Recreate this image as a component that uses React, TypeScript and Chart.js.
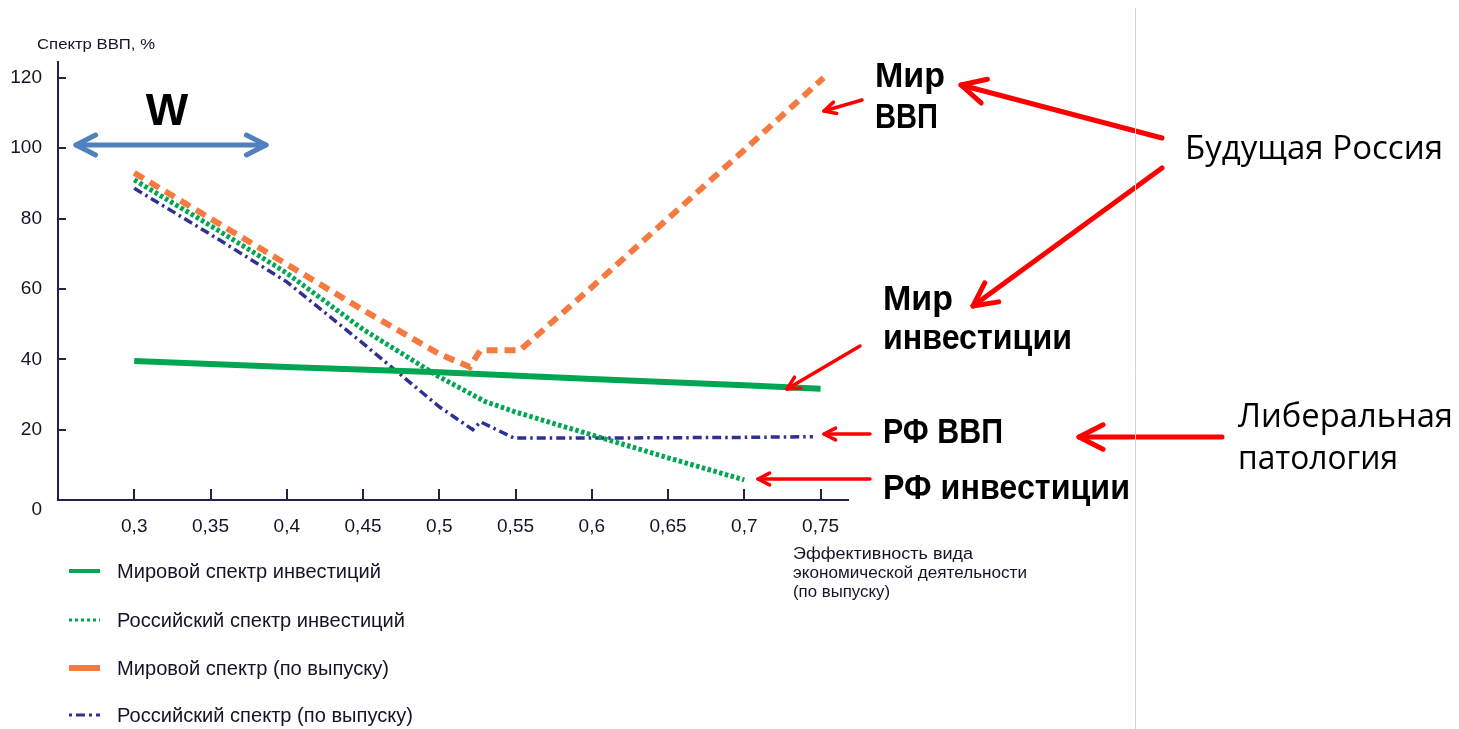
import React, { useEffect, useRef } from 'react';
import { Chart, registerables } from 'chart.js';
Chart.register(...registerables);

const xTickValues = [0.3, 0.35, 0.4, 0.45, 0.5, 0.55, 0.6, 0.65, 0.7, 0.75];
const yTickValues = [0, 20, 40, 60, 80, 100, 120];

const seriesLabels = [
  'Мировой спектр инвестиций',
  'Российский спектр инвестиций',
  'Мировой спектр (по выпуску)',
  'Российский спектр (по выпуску)',
];

const worldInvX = [0.3, 0.4, 0.5, 0.6, 0.7, 0.75];
const worldInvY = [39.5, 37.8, 36.3, 34.4, 32.6, 31.6];

const rusInvX = [0.3, 0.35, 0.4, 0.45, 0.5, 0.53, 0.55, 0.6, 0.65, 0.7];
const rusInvY = [91, 78, 64.5, 48.5, 35, 28, 25, 18.5, 12, 5.7];

const worldOutX = [0.3, 0.35, 0.4, 0.45, 0.5, 0.52, 0.527, 0.553, 0.6, 0.65, 0.7, 0.752];
const worldOutY = [93, 80, 67, 54, 41.5, 37.8, 42.6, 42.6, 60.5, 80, 99.5, 120];

const rusOutX = [0.3, 0.35, 0.4, 0.45, 0.5, 0.522, 0.527, 0.549, 0.6, 0.65, 0.7, 0.745];
const rusOutY = [88.6, 75.5, 62, 44.5, 26.5, 20, 22.2, 17.6, 17.6, 17.7, 17.8, 18];

const yTitle = 'Спектр ВВП, %';
const xTitleLines = ['Эффективность вида', 'экономической деятельности', '(по выпуску)'];

const GREEN = '#00a651';
const ORANGE = '#f47a3f';
const NAVY = '#2e3192';
const RED = '#ff0000';
const BLUE = '#4f81bd';
const AXIS = '#23234a';
const TXT = '#141428';
const FAM = '"Liberation Sans", Arial, sans-serif';

const pts = (xs: number[], ys: number[]) => xs.map((x, i) => ({ x, y: ys[i] }));

function fitText(ctx: CanvasRenderingContext2D, text: string, x: number, y: number, w: number, font: string, color: string) {
  ctx.save();
  ctx.font = font;
  ctx.fillStyle = color;
  ctx.textBaseline = 'alphabetic';
  ctx.textAlign = 'left';
  const m = ctx.measureText(text).width;
  let s = w / m;
  s = Math.max(0.7, Math.min(1.3, s));
  ctx.translate(x, y);
  ctx.scale(s, 1);
  ctx.fillText(text, 0, 0);
  ctx.restore();
}

function arrow(ctx: CanvasRenderingContext2D, x1: number, y1: number, x2: number, y2: number, lw: number, head: number, color: string, both = false) {
  ctx.save();
  ctx.strokeStyle = color;
  ctx.lineWidth = lw;
  ctx.lineCap = 'round';
  ctx.lineJoin = 'round';
  ctx.beginPath();
  ctx.moveTo(x1, y1);
  ctx.lineTo(x2, y2);
  ctx.stroke();
  const drawHead = (hx: number, hy: number, fx: number, fy: number) => {
    const a = Math.atan2(fy - hy, fx - hx);
    const da = (27 * Math.PI) / 180;
    ctx.beginPath();
    ctx.moveTo(hx + head * Math.cos(a - da), hy + head * Math.sin(a - da));
    ctx.lineTo(hx, hy);
    ctx.lineTo(hx + head * Math.cos(a + da), hy + head * Math.sin(a + da));
    ctx.stroke();
  };
  drawHead(x2, y2, x1, y1);
  if (both) drawHead(x1, y1, x2, y2);
  ctx.restore();
}

const overlayPlugin = {
  id: 'overlay',
  afterDraw(chart: any) {
    const ctx: CanvasRenderingContext2D = chart.ctx;
    const xs = chart.scales.x;
    const ys = chart.scales.y;
    const area = chart.chartArea;

    // inward tick marks
    ctx.save();
    ctx.strokeStyle = AXIS;
    ctx.lineWidth = 2;
    xTickValues.forEach((v) => {
      const px = Math.round(xs.getPixelForValue(v));
      ctx.beginPath();
      ctx.moveTo(px, area.bottom);
      ctx.lineTo(px, area.bottom - 11);
      ctx.stroke();
    });
    yTickValues.filter((v) => v > 0).forEach((v) => {
      const py = Math.round(ys.getPixelForValue(v));
      ctx.beginPath();
      ctx.moveTo(area.left, py);
      ctx.lineTo(area.left + 8, py);
      ctx.stroke();
    });
    ctx.restore();

    // zero label (offset below axis as in original)
    ctx.save();
    ctx.font = `19px ${FAM}`;
    ctx.fillStyle = TXT;
    ctx.textAlign = 'right';
    ctx.textBaseline = 'middle';
    ctx.fillText('0', area.left - 16, ys.getPixelForValue(0) + 10);
    ctx.restore();

    // axis titles
    fitText(ctx, yTitle, 37, 49, 118, `15px ${FAM}`, TXT);
    const xtw = [180, 234, 97];
    xTitleLines.forEach((t, i) => fitText(ctx, t, 793, 559 + i * 19, xtw[i], `16px ${FAM}`, TXT));

    // legend
    const legendRows = [571, 620, 668, 715];
    const legendW = [264, 288, 272, 296];
    const legendStyles = [
      { color: GREEN, width: 4, dash: [] as number[] },
      { color: GREEN, width: 3, dash: [3, 3] },
      { color: ORANGE, width: 6, dash: [] as number[] },
      { color: NAVY, width: 3, dash: [3, 4, 9, 4] },
    ];
    seriesLabels.forEach((label, i) => {
      const y = legendRows[i];
      const st = legendStyles[i];
      ctx.save();
      ctx.strokeStyle = st.color;
      ctx.lineWidth = st.width;
      ctx.setLineDash(st.dash);
      ctx.beginPath();
      ctx.moveTo(69, y);
      ctx.lineTo(100, y);
      ctx.stroke();
      ctx.restore();
      fitText(ctx, label, 117, y + 7, legendW[i], `20px ${FAM}`, TXT);
    });

    // W and blue double arrow
    ctx.save();
    ctx.font = `bold 45px ${FAM}`;
    ctx.fillStyle = '#000';
    ctx.textAlign = 'center';
    ctx.textBaseline = 'alphabetic';
    ctx.fillText('W', 167, 125);
    ctx.restore();
    arrow(ctx, 76, 145, 266, 145, 5, 22, BLUE, true);

    // bold labels
    const bold = `bold 35px ${FAM}`;
    fitText(ctx, 'Мир', 875, 87, 70, bold, '#000');
    fitText(ctx, 'ВВП', 875, 128, 63, bold, '#000');
    fitText(ctx, 'Мир', 883, 310, 70, bold, '#000');
    fitText(ctx, 'инвестиции', 883, 349, 189, bold, '#000');
    fitText(ctx, 'РФ ВВП', 883, 443, 120, bold, '#000');
    fitText(ctx, 'РФ инвестиции', 883, 499, 247, bold, '#000');

    const norm = `32px "Open Sans", ${FAM}`;
    fitText(ctx, 'Будущая Россия', 1185, 159, 258, norm, '#000');
    fitText(ctx, 'Либеральная', 1238, 427, 215, norm, '#000');
    fitText(ctx, 'патология', 1238, 469, 160, norm, '#000');

    // red arrows
    arrow(ctx, 862, 100, 824, 111, 3.5, 13, RED);
    arrow(ctx, 1162, 138, 961, 85, 5, 27, RED);
    arrow(ctx, 1162, 168, 973, 306, 5, 26, RED);
    arrow(ctx, 860, 346, 787, 389, 3.5, 14, RED);
    arrow(ctx, 870, 434, 824, 434, 3.5, 13, RED);
    arrow(ctx, 870, 479, 758, 479, 3.5, 13, RED);
    arrow(ctx, 1222, 437, 1079, 437, 5, 27, RED);

    // separator
    ctx.save();
    ctx.strokeStyle = '#d4d4d4';
    ctx.lineWidth = 1;
    ctx.beginPath();
    ctx.moveTo(1135.5, 8);
    ctx.lineTo(1135.5, 729);
    ctx.stroke();
    ctx.restore();
  },
};

export default function App() {
  const ref = useRef<HTMLCanvasElement>(null);
  useEffect(() => {
    if (!ref.current) return;
    const tickFont = { family: FAM, size: 19 };
    const chart = new Chart(ref.current, {
      type: 'line',
      data: {
        datasets: [
          {
            label: seriesLabels[0],
            data: pts(worldInvX, worldInvY),
            borderColor: GREEN,
            borderWidth: 6,
            pointRadius: 0,
            tension: 0,
            borderCapStyle: 'butt',
          },
          {
            label: seriesLabels[1],
            data: pts(rusInvX, rusInvY),
            borderColor: GREEN,
            borderWidth: 5,
            borderDash: [3.5, 2.5],
            pointRadius: 0,
            tension: 0,
          },
          {
            label: seriesLabels[2],
            data: pts(worldOutX, worldOutY),
            borderColor: ORANGE,
            borderWidth: 6,
            borderDash: [11, 7],
            pointRadius: 0,
            tension: 0,
          },
          {
            label: seriesLabels[3],
            data: pts(rusOutX, rusOutY),
            borderColor: NAVY,
            borderWidth: 3.5,
            borderDash: [9, 4, 2.5, 4],
            pointRadius: 0,
            tension: 0,
          },
        ],
      } as any,
      options: {
        animation: false,
        responsive: false,
        maintainAspectRatio: false,
        layout: { padding: { left: 0, top: 62, right: 1459 - 848, bottom: 0 } },
        plugins: { legend: { display: false }, tooltip: { enabled: false } },
        scales: {
          x: {
            type: 'linear',
            min: 0.25,
            max: 0.768,
            afterBuildTicks: (s: any) => {
              s.ticks = xTickValues.map((v) => ({ value: v }));
            },
            afterFit: (s: any) => {
              s.height = 229;
            },
            grid: { display: false, drawTicks: false },
            border: { display: true, color: AXIS, width: 2 },
            ticks: {
              padding: 15,
              font: tickFont,
              color: TXT,
              maxRotation: 0,
              autoSkip: false,
              callback: (v: any) => String(Math.round(Number(v) * 100) / 100).replace('.', ','),
            },
          },
          y: {
            type: 'linear',
            min: 0,
            max: 124.5,
            afterBuildTicks: (s: any) => {
              s.ticks = yTickValues.map((v) => ({ value: v }));
            },
            afterFit: (s: any) => {
              s.width = 58;
            },
            grid: { display: false, drawTicks: false },
            border: { display: true, color: AXIS, width: 2 },
            ticks: {
              padding: 16,
              font: tickFont,
              color: TXT,
              autoSkip: false,
              callback: (v: any) => (Number(v) === 0 ? '' : String(v)),
            },
          },
        },
      } as any,
      plugins: [overlayPlugin],
    });
    return () => chart.destroy();
  }, []);
  return (
    <div style={{ position: 'fixed', left: 0, top: 0, width: 1459, height: 729, background: '#fff' }}>
      <canvas ref={ref} width={1459} height={729} style={{ display: 'block' }} />
    </div>
  );
}
